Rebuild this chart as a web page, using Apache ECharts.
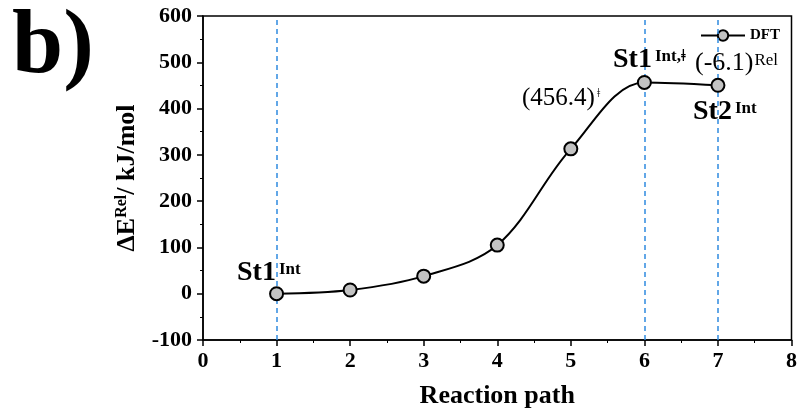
<!DOCTYPE html>
<html>
<head>
<meta charset="utf-8">
<script src="https://cdn.jsdelivr.net/npm/echarts@6/dist/echarts.min.js"></script>
<style>
  html, body { margin: 0; padding: 0; background: #fff; }
  #chart { width: 800px; height: 414px; }
</style>
</head>
<body>
<div id="chart"></div>
<script>
// Reaction path steps and relative energies (kJ/mol)
const steps = [1, 2, 3, 4, 5, 6, 7];
const energies = [0, 8, 38, 105, 313, 456.4, 450.3];
const markedSteps = [1, 6, 7];
const xTicks = [0, 1, 2, 3, 4, 5, 6, 7, 8];
const yTicks = [-100, 0, 100, 200, 300, 400, 500, 600];

const serif = '"Liberation Serif", "DejaVu Serif", serif';

const chart = echarts.init(document.getElementById('chart'));

// rich styles for state labels with superscripts
const supRich = {
  big: { fontFamily: serif, fontWeight: 'bold', fontSize: 28, lineHeight: 30, color: '#000' },
  sup: { fontFamily: serif, fontWeight: 'bold', fontSize: 17, lineHeight: 17, color: '#000', verticalAlign: 'top', padding: [3, 0, 0, 3] },
  num: { fontFamily: serif, fontSize: 25, lineHeight: 28, color: '#000' },
  supn: { fontFamily: serif, fontSize: 13, lineHeight: 14, color: '#000', verticalAlign: 'top', padding: [3, 0, 0, 2] },
  num2: { fontFamily: serif, fontSize: 26, lineHeight: 28, color: '#000' },
  supr: { fontFamily: serif, fontSize: 17, lineHeight: 17, color: '#000', verticalAlign: 'top', padding: [3, 0, 0, 1] }
};

function note(x, y, text) {
  return {
    type: 'text', left: x, top: y, z: 100,
    style: { text: text, rich: supRich, fill: '#000' }
  };
}

chart.setOption({
  animation: false,
  backgroundColor: '#fff',
  grid: {
    left: 203, right: 7, top: 16, bottom: 72,
    show: true, borderColor: '#000', borderWidth: 1.5
  },
  legend: {
    right: 15, top: 23,
    itemWidth: 44, itemHeight: 13, itemGap: 5,
    textStyle: { fontFamily: serif, fontWeight: 'bold', fontSize: 15, color: '#000' },
    data: ['DFT']
  },
  xAxis: {
    type: 'value', min: xTicks[0], max: xTicks[xTicks.length - 1], interval: 1,
    name: 'Reaction path', nameLocation: 'middle', nameGap: 43,
    nameTextStyle: { fontFamily: serif, fontWeight: 'bold', fontSize: 26, color: '#000' },
    axisLine: { onZero: false, lineStyle: { color: '#000', width: 1.5 } },
    axisTick: { length: 6, lineStyle: { color: '#000', width: 1.5 } },
    minorTick: { show: true, splitNumber: 2, length: 3, lineStyle: { color: '#000', width: 1 } },
    axisLabel: { fontFamily: serif, fontWeight: 'bold', fontSize: 22, color: '#000', margin: 10 },
    splitLine: { show: false }
  },
  yAxis: {
    type: 'value', min: yTicks[0], max: yTicks[yTicks.length - 1], interval: 100,
    name: '{b|ΔE}{s|Rel}{b|/ kJ/mol}', nameLocation: 'middle', nameGap: 61, nameRotate: 90,
    nameTextStyle: {
      rich: {
        b: { fontFamily: serif, fontWeight: 'bold', fontSize: 26, lineHeight: 30, color: '#000' },
        s: { fontFamily: serif, fontWeight: 'bold', fontSize: 16, lineHeight: 16, color: '#000', verticalAlign: 'top', padding: [2, 0, 0, 0] }
      }
    },
    axisLine: { show: true, onZero: false, lineStyle: { color: '#000', width: 1.5 } },
    axisTick: { show: true, length: 6, lineStyle: { color: '#000', width: 1.5 } },
    minorTick: { show: true, splitNumber: 2, length: 3, lineStyle: { color: '#000', width: 1 } },
    axisLabel: { fontFamily: serif, fontWeight: 'bold', fontSize: 22, color: '#000', margin: 11 },
    splitLine: { show: false }
  },
  series: [{
    name: 'DFT',
    type: 'line',
    smooth: 0.35,
    data: steps.map((s, i) => [s, energies[i]]),
    symbol: 'circle',
    symbolSize: 13,
    lineStyle: { color: '#000', width: 2 },
    itemStyle: { color: '#c3c3c3', borderColor: '#000', borderWidth: 2 },
    z: 5,
    markLine: {
      silent: true,
      symbol: ['none', 'none'],
      label: { show: false },
      lineStyle: { color: '#2f8be0', type: [5, 4], width: 1.5 },
      data: markedSteps.map(s => ({ xAxis: s }))
    }
  }],
  graphic: [
    {
      type: 'text', left: 12, top: 2, z: 100,
      style: { text: 'b)', fontFamily: serif, fontWeight: 'bold', fontSize: 92, fill: '#000' }
    },
    note(237, 258, '{big|St1}{sup|Int}'),
    note(613, 45, '{big|St1}{sup|Int,ǂ}'),
    note(522, 84, '{num|(456.4)}{supn|ǂ}'),
    note(695, 49, '{num2|(-6.1)}{supr|Rel}'),
    note(693, 97, '{big|St2}{sup|Int}')
  ]
});
</script>
</body>
</html>
